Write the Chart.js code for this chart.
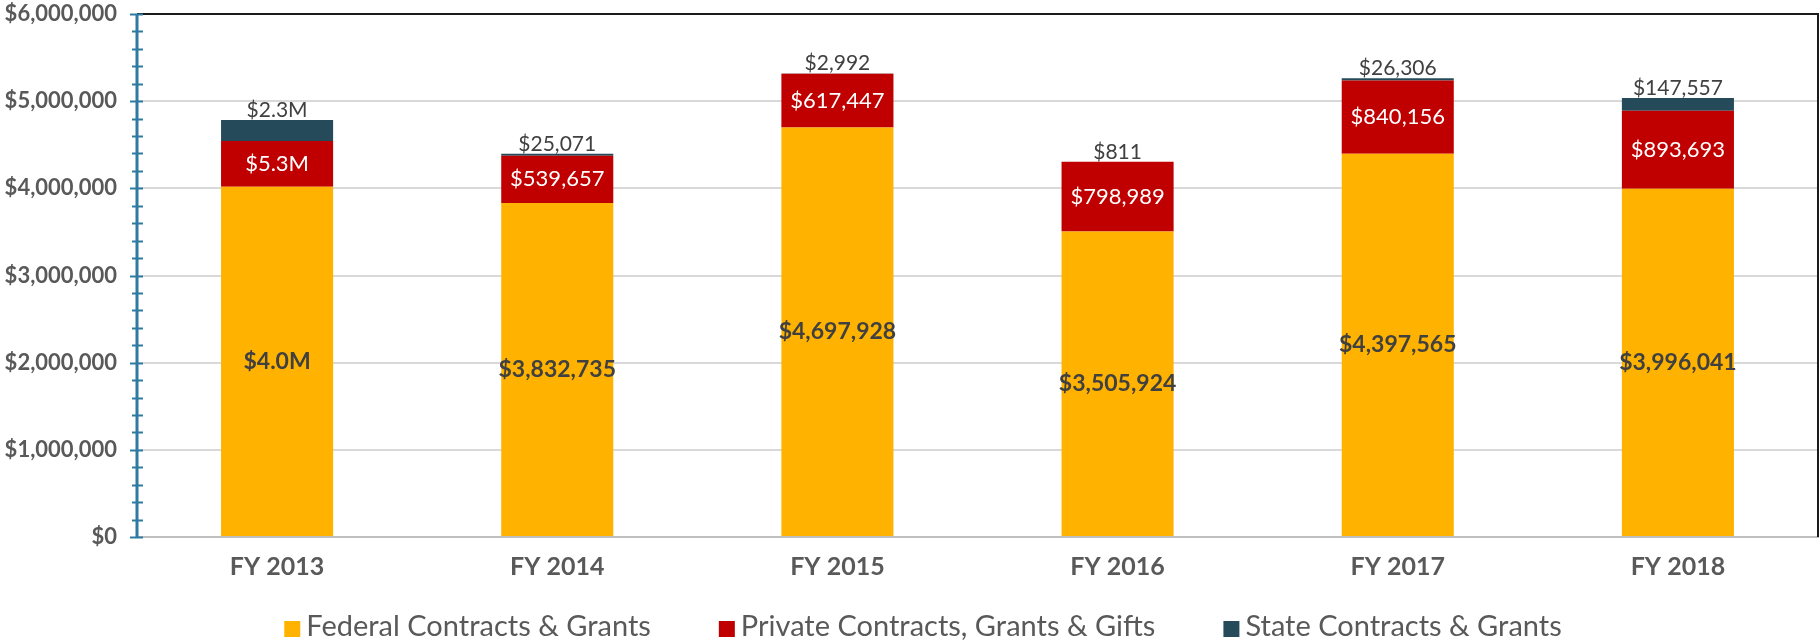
<!DOCTYPE html>
<html>
<head>
<meta charset="utf-8">
<script src="https://cdn.jsdelivr.net/npm/chart.js@4.4.0/dist/chart.umd.min.js"></script>
<style>
  html, body { margin: 0; padding: 0; background: #fff; }
  canvas { display: block; }
</style>
</head>
<body>
<canvas id="chart" width="1820" height="641"></canvas>
<script>
// === data ===
const years = ["FY 2013", "FY 2014", "FY 2015", "FY 2016", "FY 2017", "FY 2018"];
const federal = [4019000, 3832735, 4697928, 3505924, 4397565, 3996041];
const privateGifts = [525000, 539657, 617447, 798989, 840156, 893693];
const state = [240000, 25071, 2992, 811, 26306, 147557];

// labels as printed on the original chart
const federalLabels = ["$4.0M", "$3,832,735", "$4,697,928", "$3,505,924", "$4,397,565", "$3,996,041"];
const privateLabels = ["$5.3M", "$539,657", "$617,447", "$798,989", "$840,156", "$893,693"];
const stateLabels = ["$2.3M", "$25,071", "$2,992", "$811", "$26,306", "$147,557"];

const FONT = "Lato";
const GREY = "#595959";
const DARK = "#404040";
const AXIS_BLUE = "#2E7AA0";

// === tulisan di dalam / di atas bar ===
const barLabels = {
	id: "barLabels",
	afterDatasetsDraw(chart) {
		const ctx = chart.ctx;
		ctx.save();
		ctx.textAlign = "center";

		chart.getDatasetMeta(0).data.forEach((el, i) => {
			ctx.font = "bold 23px " + FONT;
			ctx.fillStyle = DARK;
			ctx.textBaseline = "middle";
			ctx.fillText(federalLabels[i], el.x, (el.y + el.base) / 2);
		});

		chart.getDatasetMeta(1).data.forEach((el, i) => {
			ctx.font = "22px " + FONT;
			ctx.fillStyle = "#ffffff";
			ctx.textBaseline = "middle";
			ctx.fillText(privateLabels[i], el.x, (el.y + el.base) / 2);
		});

		chart.getDatasetMeta(2).data.forEach((el, i) => {
			ctx.font = "21px " + FONT;
			ctx.fillStyle = DARK;
			ctx.textBaseline = "alphabetic";
			ctx.fillText(stateLabels[i], el.x, el.y - 3);
		});

		ctx.restore();
	},
};

// === garis atas & kanan + tick silang di sumbu y ===
const frame = {
	id: "frame",
	afterDraw(chart) {
		const ctx = chart.ctx;
		const area = chart.chartArea;
		const y = chart.scales.y;
		ctx.save();

		ctx.strokeStyle = "#1a1a1a";
		ctx.lineWidth = 2;
		ctx.beginPath();
		ctx.moveTo(area.left, area.top);
		ctx.lineTo(area.right, area.top);
		ctx.lineTo(area.right, area.bottom);
		ctx.stroke();

		ctx.strokeStyle = AXIS_BLUE;
		y.ticks.forEach((t) => {
			const py = Math.round(y.getPixelForValue(t.value)) + 0.5;
			const major = t.value % 1000000 === 0;
			ctx.lineWidth = 2;
			ctx.beginPath();
			ctx.moveTo(area.left - (major ? 7 : 5), py);
			ctx.lineTo(area.left + 6, py);
			ctx.stroke();
		});

		ctx.lineWidth = 3;
		ctx.beginPath();
		ctx.moveTo(area.left, area.top);
		ctx.lineTo(area.left, area.bottom);
		ctx.stroke();

		ctx.restore();
	},
};

// === legend manual (jarak antar item lebar seperti aslinya) ===
const bottomLegend = {
	id: "bottomLegend",
	afterDraw(chart) {
		const ctx = chart.ctx;
		const box = 16, textGap = 6, itemGap = 68;
		const baseline = 636;
		ctx.save();
		ctx.font = "29px " + FONT;
		const items = chart.data.datasets.map((ds) => ({
			text: ds.label,
			color: ds.backgroundColor,
			w: ctx.measureText(ds.label).width,
		}));
		let total = items.reduce((s, it) => s + box + textGap + it.w, 0) + itemGap * (items.length - 1);
		let x = 923 - total / 2;
		ctx.textBaseline = "alphabetic";
		ctx.textAlign = "left";
		items.forEach((it) => {
			ctx.fillStyle = it.color;
			ctx.fillRect(x, baseline - box + 1, box, box);
			ctx.fillStyle = GREY;
			ctx.fillText(it.text, x + box + textGap, baseline);
			x += box + textGap + it.w + itemGap;
		});
		ctx.restore();
	},
};

new Chart(document.getElementById("chart"), {
	type: "bar",
	data: {
		labels: years,
		datasets: [
			{ label: "Federal Contracts & Grants", data: federal, backgroundColor: "#FFB300" },
			{ label: "Private Contracts, Grants & Gifts", data: privateGifts, backgroundColor: "#C00000" },
			{ label: "State Contracts & Grants", data: state, backgroundColor: "#254B5A" },
		],
	},
	options: {
		responsive: false,
		animation: false,
		devicePixelRatio: 1,
		datasets: {
			bar: { barPercentage: 0.4, categoryPercentage: 1.0, borderWidth: 0 },
		},
		layout: { padding: { top: 14, right: 2, left: 0, bottom: 44 } },
		plugins: {
			tooltip: { enabled: false },
			legend: { display: false },
		},
		scales: {
			x: {
				stacked: true,
				grid: { display: false, drawTicks: false },
				border: { color: "#BFBFBF", width: 2 },
				ticks: {
					color: GREY,
					padding: 15,
					font: { family: FONT, size: 25, weight: "bold" },
				},
				afterFit(scale) {
					scale.height = 60;
				},
			},
			y: {
				stacked: true,
				min: 0,
				max: 6000000,
				grid: {
					drawTicks: false,
					lineWidth: 2,
					color: (c) => (c.tick && c.tick.value % 1000000 === 0 ? "#D9D9D9" : "rgba(0,0,0,0)"),
				},
				border: { display: false },
				ticks: {
					stepSize: 200000,
					autoSkip: false,
					padding: 20,
					color: GREY,
					font: { family: FONT, size: 22, weight: "bold" },
					callback: (v) => (v % 1000000 === 0 ? "$" + v.toLocaleString("en-US") : ""),
				},
				afterFit(scale) {
					scale.width = 137;
					scale.paddingTop = 0;
					scale.paddingBottom = 0;
				},
			},
		},
	},
	plugins: [barLabels, frame, bottomLegend],
});
</script>
</body>
</html>
